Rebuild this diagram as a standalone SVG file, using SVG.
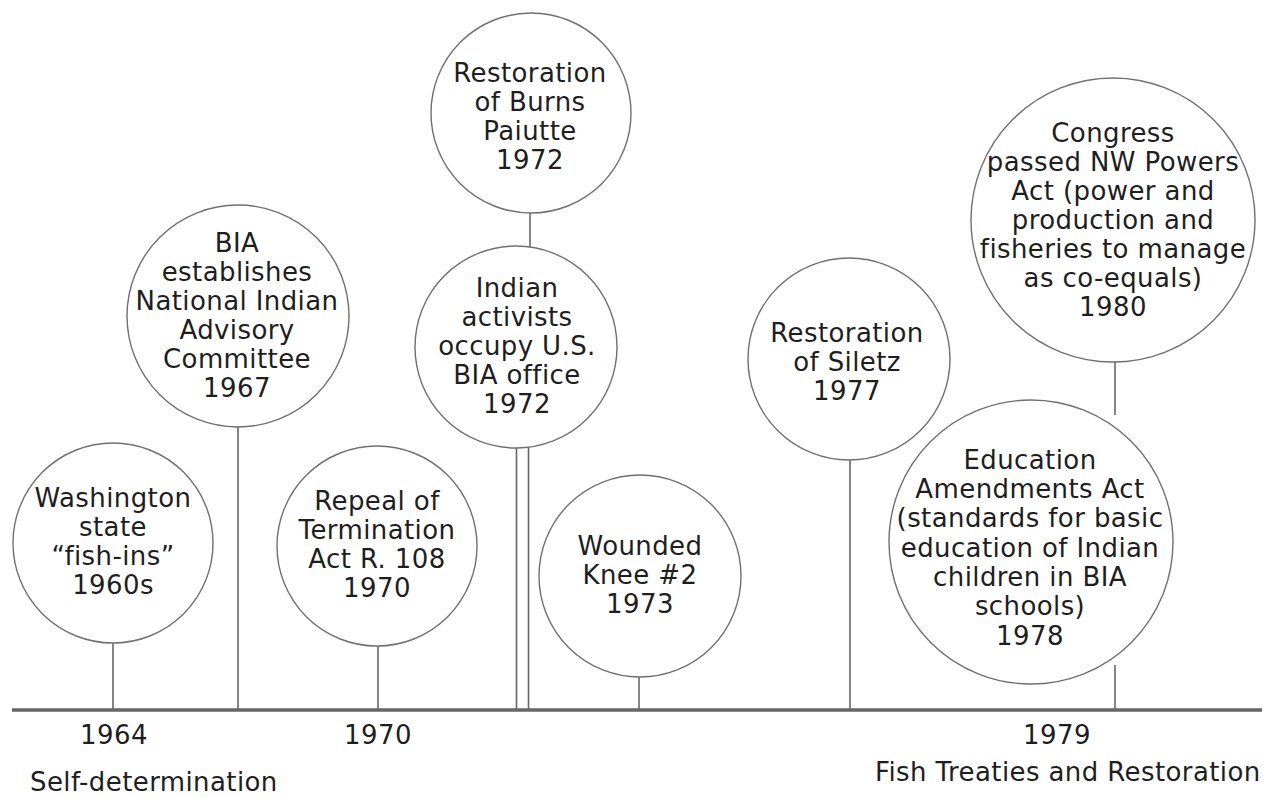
<svg xmlns="http://www.w3.org/2000/svg" width="1270" height="798" viewBox="0 0 1270 798">
<style>
.c{fill:#fff;stroke:#707070;stroke-width:1.4}
.s{stroke:#666;stroke-width:1.6;fill:none}
.base{stroke:#666;stroke-width:3.5}
text{font-family:"DejaVu Sans",Verdana,sans-serif;font-size:26px;letter-spacing:0.4px;fill:#1e1e1e;text-anchor:middle}
.l{text-anchor:start}
</style>
<rect width="1270" height="798" fill="#fff"/>
<g id="connectors">
<line class="base" x1="12" y1="710" x2="1262" y2="710"/>
<line class="s" x1="113" y1="643" x2="113" y2="710"/>
<line class="s" x1="238" y1="427" x2="238" y2="710"/>
<line class="s" x1="378" y1="646" x2="378" y2="710"/>
<line class="s" x1="530" y1="213" x2="530" y2="247"/>
<line class="s" x1="516.5" y1="447" x2="516.5" y2="710"/>
<line class="s" x1="528.5" y1="447" x2="528.5" y2="710"/>
<line class="s" x1="639" y1="677" x2="639" y2="710"/>
<line class="s" x1="850" y1="459" x2="850" y2="710"/>
<line class="s" x1="1115" y1="361" x2="1115" y2="415"/>
<line class="s" x1="1115" y1="665" x2="1115" y2="710"/>
</g>
<g id="n1">
<circle class="c" cx="113" cy="543" r="100"/>
<text x="113" y="507">Washington</text>
<text x="113" y="536">state</text>
<text x="113" y="565">“fish-ins”</text>
<text x="113" y="594">1960s</text>
</g>
<g id="n2">
<circle class="c" cx="238" cy="316" r="111"/>
<text x="237" y="252">BIA</text>
<text x="237" y="281">establishes</text>
<text x="237" y="310">National Indian</text>
<text x="237" y="339">Advisory</text>
<text x="237" y="368">Committee</text>
<text x="237" y="397">1967</text>
</g>
<g id="n3">
<circle class="c" cx="377" cy="546" r="100"/>
<text x="377" y="510">Repeal of</text>
<text x="377" y="539">Termination</text>
<text x="377" y="568">Act R. 108</text>
<text x="377" y="597">1970</text>
</g>
<g id="n4">
<circle class="c" cx="531" cy="113" r="100"/>
<text x="530" y="82">Restoration</text>
<text x="530" y="111">of Burns</text>
<text x="530" y="140">Paiutte</text>
<text x="530" y="169">1972</text>
</g>
<g id="n5">
<circle class="c" cx="516" cy="347" r="101"/>
<text x="517" y="297">Indian</text>
<text x="517" y="326">activists</text>
<text x="517" y="355">occupy U.S.</text>
<text x="517" y="384">BIA office</text>
<text x="517" y="413">1972</text>
</g>
<g id="n6">
<circle class="c" cx="640" cy="576" r="101"/>
<text x="640" y="555">Wounded</text>
<text x="640" y="584">Knee #2</text>
<text x="640" y="613">1973</text>
</g>
<g id="n7">
<circle class="c" cx="849" cy="359" r="101"/>
<text x="847" y="342">Restoration</text>
<text x="847" y="371">of Siletz</text>
<text x="847" y="400">1977</text>
</g>
<g id="n8">
<circle class="c" cx="1113" cy="220" r="142"/>
<text x="1113" y="142">Congress</text>
<text x="1113" y="171">passed NW Powers</text>
<text x="1113" y="200">Act (power and</text>
<text x="1113" y="229">production and</text>
<text x="1113" y="258">fisheries to manage</text>
<text x="1113" y="287">as co-equals)</text>
<text x="1113" y="316">1980</text>
</g>
<g id="n9">
<circle class="c" cx="1031" cy="542" r="142"/>
<text x="1030" y="469">Education</text>
<text x="1030" y="498">Amendments Act</text>
<text x="1030" y="527">(standards for basic</text>
<text x="1030" y="557">education of Indian</text>
<text x="1030" y="586">children in BIA</text>
<text x="1030" y="615">schools)</text>
<text x="1030" y="645">1978</text>
</g>
<g id="labels">
<text x="114" y="744">1964</text>
<text x="378" y="744">1970</text>
<text x="1057" y="744">1979</text>
<text class="l" x="30" y="791">Self-determination</text>
<text class="l" x="875" y="781">Fish Treaties and Restoration</text>
</g>
</svg>
